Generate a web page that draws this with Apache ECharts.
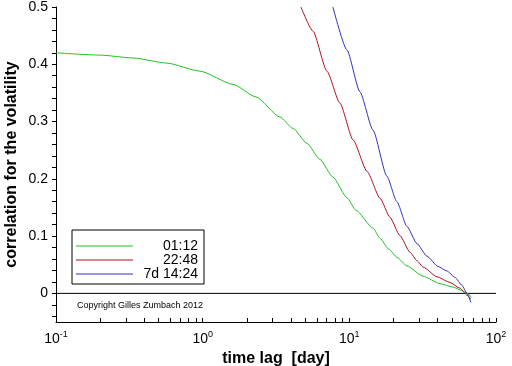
<!DOCTYPE html>
<html><head><meta charset="utf-8">
<script src="https://cdn.jsdelivr.net/npm/echarts@6/dist/echarts.min.js"></script>
<style>html,body{margin:0;padding:0;background:#fff}#c{width:512px;height:366px}</style>
</head><body><div id="c"></div>
<script>
// ---- data ----
const seriesNames = ['01:12', '22:48', '7d 14:24'];
const green = [[0.1,0.420],[0.2,0.416],[0.335,0.411],[0.571,0.402],[0.959,0.388],[1.61,0.365],[2.31,0.343],[3.36,0.308],[4.13,0.288],[5.14,0.262],[6.30,0.234],[7.73,0.203],[9.63,0.167],[11.1,0.145],[14.5,0.114],[16.2,0.096],[18.6,0.077],[21.1,0.063],[24.7,0.048],[31.8,0.030],[41.5,0.017],[50.8,0.011],[58.6,0.005],[63.4,0.0],[68.5,-0.007]];
const red = [[4.68,0.5],[5.65,0.458],[7.03,0.388],[8.63,0.332],[10.6,0.268],[13.2,0.213],[16.2,0.166],[18.9,0.133],[22.1,0.101],[25.9,0.072],[28.9,0.057],[31.8,0.046],[39.6,0.029],[48.5,0.019],[56.8,0.009],[63.4,-0.003],[67.5,-0.010]];
const blue = [[7.73,0.5],[9.63,0.425],[11.8,0.352],[14.5,0.285],[18.0,0.205],[21.1,0.160],[24.7,0.117],[28.9,0.087],[33.8,0.065],[40.2,0.047],[46.3,0.039],[52.5,0.028],[58.6,0.014],[63.4,0.0],[67.5,-0.016]];
const zeroLine = [[0.1,0],[100,0]];
const xLabelValues = [0.1, 1, 10, 100];
const xTickValues = [0.1,0.2,0.3,0.4,0.5,0.6,0.7,0.8,0.9,1,2,3,4,5,6,7,8,9,10,20,30,40,50,60,70,80,90,100];
const yLabelValues = [0, 0.1, 0.2, 0.3, 0.4, 0.5];
const yTickValues = [-0.04,-0.02,0,0.02,0.04,0.06,0.08,0.1,0.12,0.14,0.16,0.18,0.2,0.22,0.24,0.26,0.28,0.3,0.32,0.34,0.36,0.38,0.4,0.42,0.44,0.46,0.48,0.5];
const colors = ['#22c022', '#b01020', '#3030c0'];

const chart = echarts.init(document.getElementById('c'), null, {renderer: 'canvas'});
const FONT = 'Liberation Sans, Arial, sans-serif';
const mk = (name, data, color) => ({
  name, type: 'line', data, symbol: 'none', showSymbol: false, clip: true,
  smooth: 0.2, smoothMonotone: 'x',
  lineStyle: {color, width: 1}, itemStyle: {color}, animation: false, z: 3
});
chart.setOption({
  animation: false,
  textStyle: {fontFamily: FONT},
  grid: {left: 56, right: 16, top: 7, bottom: 44, containLabel: false, outerBoundsMode: 'none'},
  xAxis: {
    type: 'log', logBase: 10, min: 0.1, max: 100,
    name: 'time lag  [day]', nameLocation: 'middle', nameGap: 28,
    nameTextStyle: {fontSize: 16, fontWeight: 'bold', color: '#000', fontFamily: FONT},
    axisLine: {show: true, onZero: false, lineStyle: {color: '#000', width: 1}},
    axisTick: {show: true, inside: true, length: 4, lineStyle: {color: '#000', width: 1}, customValues: xTickValues},
    axisLabel: {
      customValues: xLabelValues, color: '#000', margin: 8,
      formatter: v => '{b|10}{s|' + Math.round(Math.log10(v)) + '}',
      rich: {b: {fontSize: 14, fontFamily: FONT, color: '#000'}, s: {fontSize: 9, fontFamily: FONT, color: '#000', padding: [0, 0, 9, 0]}}
    },
    splitLine: {show: false}, minorTick: {show: false}
  },
  yAxis: {
    type: 'value', min: -0.05, max: 0.5,
    name: 'correlation for the volatility', nameLocation: 'middle', nameGap: 36, nameRotate: 90,
    nameMoveOverlap: false,
    nameTextStyle: {fontSize: 16, fontWeight: 'bold', color: '#000', fontFamily: FONT},
    axisLine: {show: true, onZero: false, lineStyle: {color: '#000', width: 1}},
    axisTick: {show: true, inside: false, length: 4, lineStyle: {color: '#000', width: 1}, customValues: yTickValues},
    axisLabel: {customValues: yLabelValues, color: '#000', fontSize: 14, margin: 8,
      formatter: v => (Math.abs(v) < 1e-9 ? '0' : v.toFixed(1))},
    splitLine: {show: false}
  },
  legend: {
    data: seriesNames, orient: 'vertical', left: 72, top: 230,
    borderColor: '#000', borderWidth: 1, padding: [9, 6, 3, 4],
    icon: 'rect', itemWidth: 57, itemHeight: 1, itemGap: 0,
    selectedMode: false,
    formatter: n => '{a|' + n + '}',
    textStyle: {rich: {a: {width: 60, align: 'right', fontSize: 14, lineHeight: 15, fontFamily: FONT, color: '#000'}}}
  },
  graphic: [{type: 'text', left: 77, top: 301, style: {text: 'Copyright Gilles Zumbach 2012', fontSize: 9, fontFamily: FONT, fill: '#000'}}],
  series: [
    mk(seriesNames[0], green, colors[0]),
    mk(seriesNames[1], red, colors[1]),
    mk(seriesNames[2], blue, colors[2]),
    {name: 'zero', type: 'line', data: zeroLine, symbol: 'none', lineStyle: {color: '#000', width: 1}, z: 2, silent: true}
  ]
});
</script></body></html>
